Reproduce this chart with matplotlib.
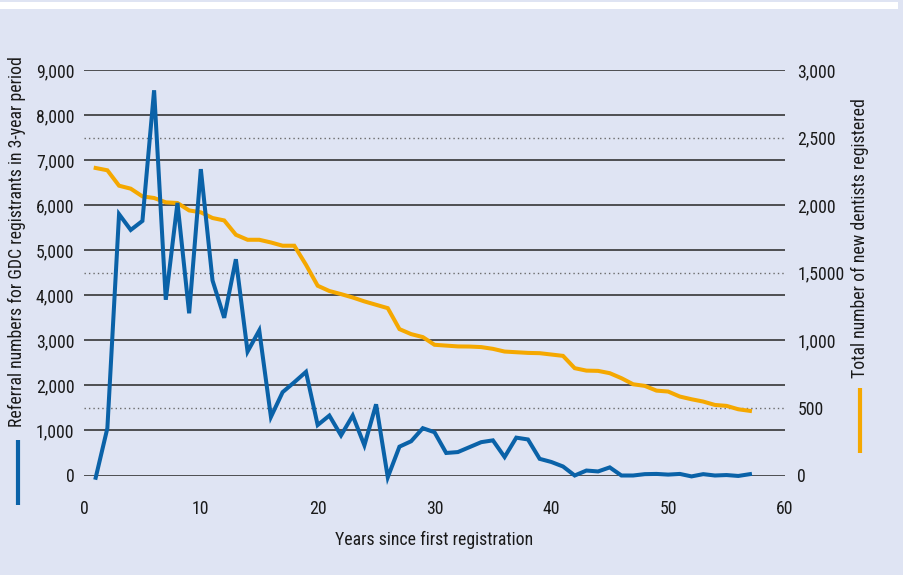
import numpy as np
import matplotlib
matplotlib.use('Agg')
import matplotlib.pyplot as plt
import matplotlib.font_manager as fm
from matplotlib.lines import Line2D
from matplotlib.patches import Rectangle
from matplotlib.transforms import blended_transform_factory

# data
years = list(range(1, 58))
referrals = [-50, 1050, 5800, 5450, 5650, 8550, 3900, 6050, 3600, 6800,
             4330, 3500, 4800, 2750, 3220, 1300, 1850, 2070, 2300, 1120,
             1330, 890, 1330, 670, 1580, -40, 640, 760, 1050, 960,
             500, 520, 630, 740, 780, 410, 840, 800, 370, 300,
             200, 0, 110, 90, 180, 0, 0, 30, 35, 20,
             35, -20, 30, 0, 10, -10, 30]
new_dentists = [2275, 2258, 2144, 2122, 2065, 2053, 2021, 2016, 1961, 1947,
                1905, 1887, 1781, 1744, 1744, 1724, 1700, 1700, 1559, 1404,
                1365, 1342, 1317, 1288, 1263, 1238, 1083, 1046, 1024, 967,
                961, 955, 954, 950, 937, 917, 912, 907, 905, 895,
                885, 794, 776, 774, 757, 720, 675, 663, 628, 621,
                584, 564, 547, 522, 515, 490, 478]

left_ticks = [0, 1000, 2000, 3000, 4000, 5000, 6000, 7000, 8000, 9000]
left_labels = ['0', '1,000', '2,000', '3,000', '4,000', '5,000', '6,000', '7,000', '8,000', '9,000']
right_ticks = [0, 500, 1000, 1500, 2000, 2500, 3000]
right_labels = ['0', '500', '1,000', '1,5000', '2,000', '2,500', '3,000']
x_ticks = [0, 10, 20, 30, 40, 50, 60]

blue = '#0a62a8'
orange = '#f5a800'
bg = '#dfe4f3'
ink = '#1a1a1a'

avail = {f.name for f in fm.fontManager.ttflist}
font = 'DejaVu Sans'
fsize = 10
for cand, sz in [('Liberation Sans Narrow', 13), ('Roboto Condensed', 12.8), ('Lato', 11.5), ('Open Sans', 10.5)]:
    if cand in avail:
        font, fsize = cand, sz
        break
plt.rcParams['font.family'] = [font, 'DejaVu Sans']

W, H = 904, 575
fig = plt.figure(figsize=(W / 100, H / 100), dpi=100, facecolor=bg)

# white strip along the top
fig.patches.append(Rectangle((0, 1 - 8.5 / H), 898 / W, 6 / H, transform=fig.transFigure,
                             facecolor='white', edgecolor='none'))

ax = fig.add_axes([84 / W, (H - 475.5) / H, (785 - 84) / W, (475.5 - 70) / H])
ax2 = ax.twinx()
ax.set_zorder(2)
ax2.set_zorder(1)
ax.patch.set_visible(False)
ax2.patch.set_visible(False)

ax.set_xlim(0, 60)
ax.set_ylim(0, 9000)
ax2.set_ylim(0, 3000)

# gridlines (drawn in the lower axes so the lines sit on top)
tr = blended_transform_factory(ax2.transAxes, ax.transData)
for v in left_ticks:
    ax2.add_line(Line2D([0, 1], [v, v], transform=tr, color='#262626', lw=1.1, zorder=0))
tr2 = blended_transform_factory(ax2.transAxes, ax2.transData)
for v in [500, 1500, 2500]:
    ax2.add_line(Line2D([0, 1], [v, v], transform=tr2, color='#6a6a6a', lw=1.0,
                        linestyle=(0, (1, 2.2)), zorder=0))

ax2.plot(years, new_dentists, color=orange, lw=2.9, solid_joinstyle='miter', clip_on=False, zorder=3)
ax.plot(years, referrals, color=blue, lw=2.9, solid_joinstyle='miter', clip_on=False, zorder=3)

for a in (ax, ax2):
    for s in a.spines.values():
        s.set_visible(False)

ax.set_yticks(left_ticks)
ax.set_yticklabels(left_labels)
ax.set_xticks(x_ticks)
ax.tick_params(axis='y', length=0, pad=7, labelsize=fsize, labelcolor=ink)
ax.tick_params(axis='x', length=0, pad=18, labelsize=fsize, labelcolor=ink)
ax2.set_yticks(right_ticks)
ax2.set_yticklabels(right_labels)
ax2.tick_params(axis='y', length=0, pad=9, labelsize=fsize, labelcolor=ink)

ax.set_xlabel('Years since first registration', fontsize=fsize, color=ink, labelpad=9)

fig.text(17 / W, 1 - 242 / H, 'Referral numbers for GDC registrants in 3-year period',
         rotation=90, ha='center', va='center', fontsize=fsize, color=ink)
fig.text(860 / W, 1 - 238 / H, 'Total number of new dentists registered',
         rotation=90, ha='center', va='center', fontsize=fsize, color=ink)

# key strokes under the axis titles
fig.add_artist(Line2D([18 / W, 18 / W], [1 - 440 / H, 1 - 505 / H], transform=fig.transFigure,
                      color=blue, lw=3, solid_capstyle='butt'))
fig.add_artist(Line2D([860 / W, 860 / W], [1 - 388 / H, 1 - 453 / H], transform=fig.transFigure,
                      color=orange, lw=3, solid_capstyle='butt'))

fig.savefig('out.png', dpi=100, facecolor=bg)
